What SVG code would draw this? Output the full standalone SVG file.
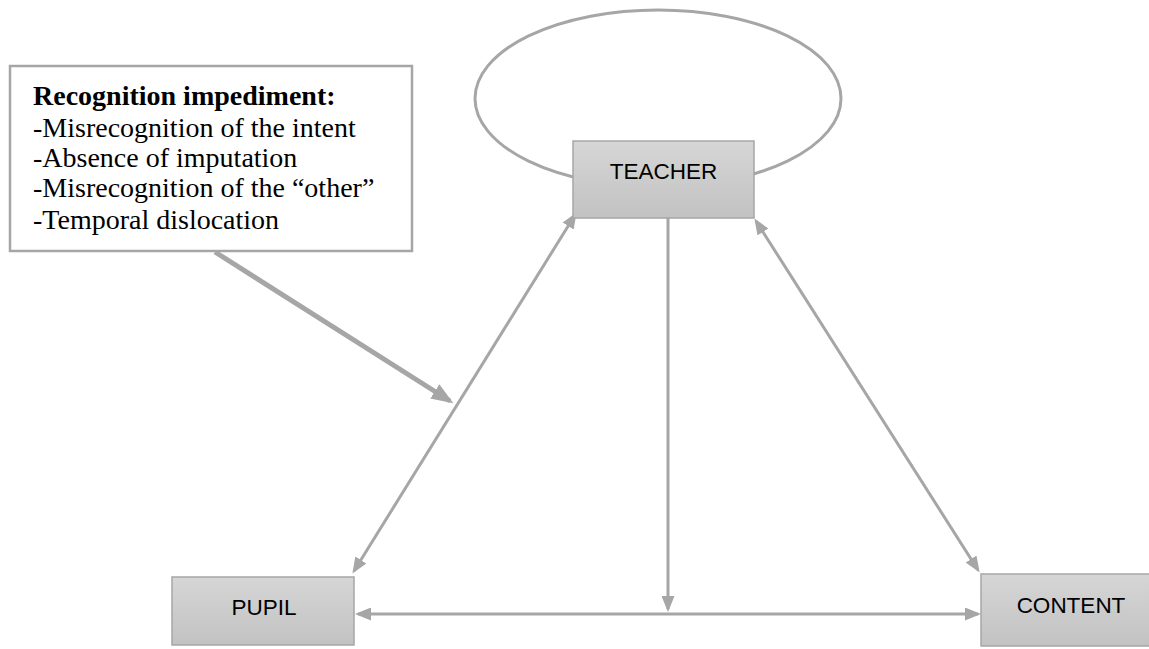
<svg xmlns="http://www.w3.org/2000/svg" width="1149" height="649" viewBox="0 0 1149 649">
  <style>
    .node rect { fill: url(#boxFill); stroke: #a6a6a6; stroke-width: 1.5; }
    .node text { font-family: "Liberation Sans", Arial, sans-serif; font-size: 22.5px; fill: #000; text-anchor: middle; }
    .link { stroke: #a6a6a6; stroke-width: 3; fill: none; }
    .link.thick { stroke-width: 5; }
    .note rect { fill: #fff; stroke: #a6a6a6; stroke-width: 2.5; }
    .note text { font-family: "Liberation Serif", "Times New Roman", serif; font-size: 28px; fill: #000; }
  </style>
  <defs>
    <linearGradient id="boxFill" x1="0" y1="0" x2="0" y2="1">
      <stop offset="0" stop-color="#d6d6d6"/>
      <stop offset="1" stop-color="#c2c2c2"/>
    </linearGradient>
    <marker id="head" markerUnits="userSpaceOnUse" markerWidth="16" markerHeight="13" refX="13" refY="6.5" orient="auto-start-reverse">
      <path d="M0,0 L16,6.5 L0,13 z" fill="#a6a6a6"/>
    </marker>
    <marker id="bigHead" markerUnits="userSpaceOnUse" markerWidth="22" markerHeight="17" refX="18" refY="8.5" orient="auto">
      <path d="M0,0 L22,8.5 L0,17 z" fill="#a6a6a6"/>
    </marker>
  </defs>

  <rect width="1149" height="649" fill="#fff"/>

  <!-- self-loop around the teacher -->
  <ellipse cx="658" cy="98.5" rx="183" ry="88.5" fill="none" stroke="#a6a6a6" stroke-width="3"/>

  <g id="connectors">
    <!-- pupil <-> teacher -->
    <line class="link" x1="354" y1="571" x2="575" y2="215" marker-start="url(#head)" marker-end="url(#head)"/>
    <!-- teacher <-> content -->
    <line class="link" x1="756" y1="221" x2="978" y2="570" marker-start="url(#head)" marker-end="url(#head)"/>
    <!-- pupil <-> content -->
    <line class="link" x1="358" y1="614" x2="978" y2="614" marker-start="url(#head)" marker-end="url(#head)"/>
    <!-- teacher down to the pupil-content relation -->
    <line class="link" x1="668" y1="207" x2="668" y2="609" marker-end="url(#head)"/>
    <!-- impediment pointing at the pupil-teacher relation -->
    <line class="link thick" x1="215" y1="252" x2="450" y2="401" marker-end="url(#bigHead)"/>
  </g>

  <g id="teacher" class="node">
    <rect x="573" y="141" width="181" height="77"/>
    <text x="663.5" y="179">TEACHER</text>
  </g>

  <g id="pupil" class="node">
    <rect x="172" y="577" width="182" height="68"/>
    <text x="264" y="615">PUPIL</text>
  </g>

  <g id="content" class="node">
    <rect x="981" y="574" width="180" height="72"/>
    <text x="1071" y="613">CONTENT</text>
  </g>

  <g id="impediment" class="note">
    <rect x="10" y="66" width="402" height="185"/>
    <text x="33" y="105" font-weight="bold">Recognition impediment:</text>
    <text x="33" y="137">-Misrecognition of the intent</text>
    <text x="33" y="167">-Absence of imputation</text>
    <text x="33" y="197">-Misrecognition of the “other”</text>
    <text x="33" y="229">-Temporal dislocation</text>
  </g>
</svg>
